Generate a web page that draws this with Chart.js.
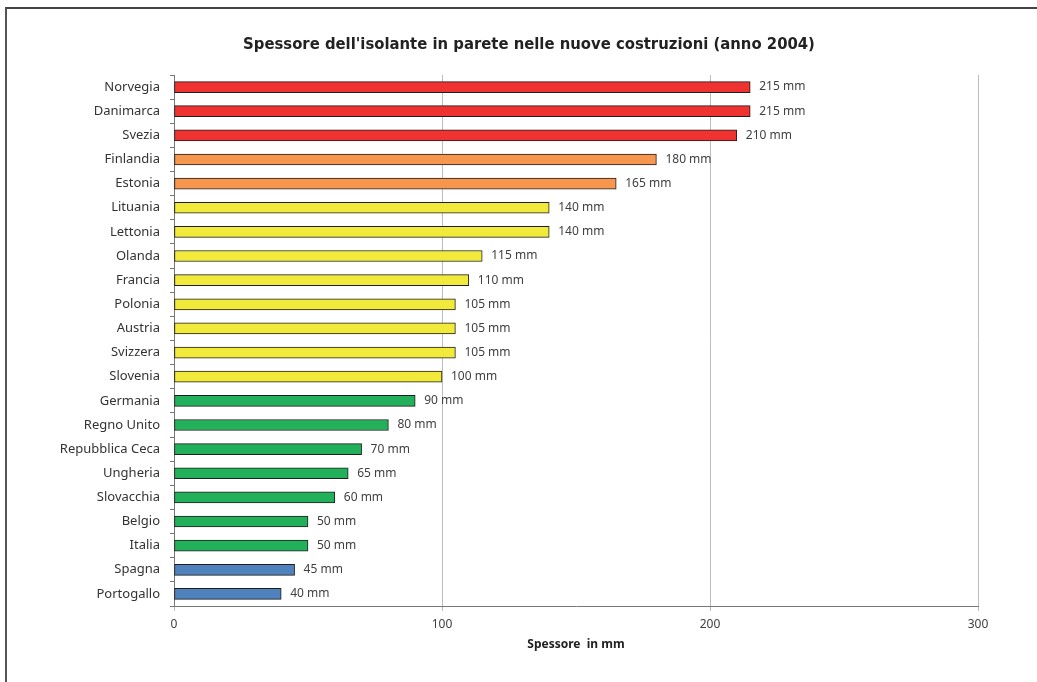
<!DOCTYPE html>
<html>
<head>
<meta charset="utf-8">
<script src="https://cdn.jsdelivr.net/npm/chart.js@4.4.1/dist/chart.umd.min.js"></script>
<style>
  html, body { margin: 0; padding: 0; background: #fff; overflow: hidden; }
  #frame { position: absolute; left: 5px; top: 7px; width: 1100px; height: 720px;
           border-top: 2px solid #444; border-left: 2px solid #555; }
  #wrap { position: absolute; left: 0; top: 0; width: 1037px; height: 682px; }
</style>
</head>
<body>
<div id="frame"></div>
<div id="wrap"><canvas id="chart" width="1037" height="682"></canvas></div>
<script>
// paesi, dall'alto in basso
const countries = ["Norvegia", "Danimarca", "Svezia", "Finlandia", "Estonia", "Lituania", "Lettonia",
  "Olanda", "Francia", "Polonia", "Austria", "Svizzera", "Slovenia", "Germania", "Regno Unito",
  "Repubblica Ceca", "Ungheria", "Slovacchia", "Belgio", "Italia", "Spagna", "Portogallo"];
const thickness = [215, 215, 210, 180, 165, 140, 140, 115, 110, 105, 105, 105, 100, 90, 80, 70, 65, 60, 50, 50, 45, 40];
const barColors = ["#EE3330", "#EE3330", "#EE3330", "#F7964F", "#F7964F",
  "#F2EA3A", "#F2EA3A", "#F2EA3A", "#F2EA3A", "#F2EA3A", "#F2EA3A", "#F2EA3A", "#F2EA3A",
  "#22B05A", "#22B05A", "#22B05A", "#22B05A", "#22B05A", "#22B05A", "#22B05A",
  "#4F81BD", "#4F81BD"];
const xTicks = [0, 100, 200, 300];
const titleText = "Spessore dell'isolante in parete nelle nuove costruzioni (anno 2004)";

const valueLabels = {
  id: 'valueLabels',
  afterDatasetsDraw(chart) {
    const ctx = chart.ctx;
    const meta = chart.getDatasetMeta(0);
    ctx.save();
    ctx.font = '12px "Noto Sans"';
    ctx.fillStyle = '#404040';
    ctx.textAlign = 'left';
    ctx.textBaseline = 'middle';
    meta.data.forEach((bar, i) => {
      ctx.fillText(thickness[i] + ' mm', bar.x + 9, bar.y);
    });
    ctx.restore();
  }
};

// the original title sits a bit right of the canvas centre, so draw it by hand
const chartTitle = {
  id: 'chartTitle',
  afterDraw(chart) {
    const ctx = chart.ctx;
    ctx.save();
    ctx.font = 'bold 16.5px "DejaVu Sans Condensed", Roboto, sans-serif';
    ctx.fillStyle = '#222';
    ctx.textAlign = 'center';
    ctx.textBaseline = 'middle';
    ctx.fillText(titleText, 529, 45);
    ctx.restore();
  }
};

const ctx = document.getElementById('chart').getContext('2d');
new Chart(ctx, {
  type: 'bar',
  data: {
    labels: countries,
    datasets: [{
      data: thickness,
      backgroundColor: barColors,
      borderColor: '#1e1e1e',
      borderWidth: 1,
      borderSkipped: false,
      barThickness: 11
    }]
  },
  options: {
    indexAxis: 'y',
    responsive: false,
    animation: false,
    layout: { padding: { left: 0, right: 59, top: 75, bottom: 0 } },
    plugins: {
      legend: { display: false },
      tooltip: { enabled: false },
      title: { display: false }
    },
    scales: {
      x: {
        min: 0,
        max: 300,
        afterBuildTicks(scale) { scale.ticks = xTicks.map(v => ({ value: v })); },
        afterFit(scale) { scale.height = 76; },
        grid: { color: '#bdbdbd', tickLength: 5, tickColor: '#bdbdbd' },
        border: { color: '#777', width: 1 },
        ticks: { color: '#404040', font: { family: '"Noto Sans"', size: 12 }, padding: 6 },
        title: {
          display: true,
          text: 'Spessore  in mm',
          color: '#222',
          font: { family: '"Noto Sans"', size: 12, weight: 'bold' },
          padding: { top: 4, bottom: 30 }
        }
      },
      y: {
        afterFit(scale) { scale.width = 174; },
        grid: { drawOnChartArea: false, tickLength: 4, color: '#777' },
        border: { color: '#777', width: 1 },
        ticks: { color: '#333', font: { family: '"Noto Sans"', size: 13 }, padding: 10, autoSkip: false }
      }
    }
  },
  plugins: [valueLabels, chartTitle]
});
</script>
</body>
</html>
